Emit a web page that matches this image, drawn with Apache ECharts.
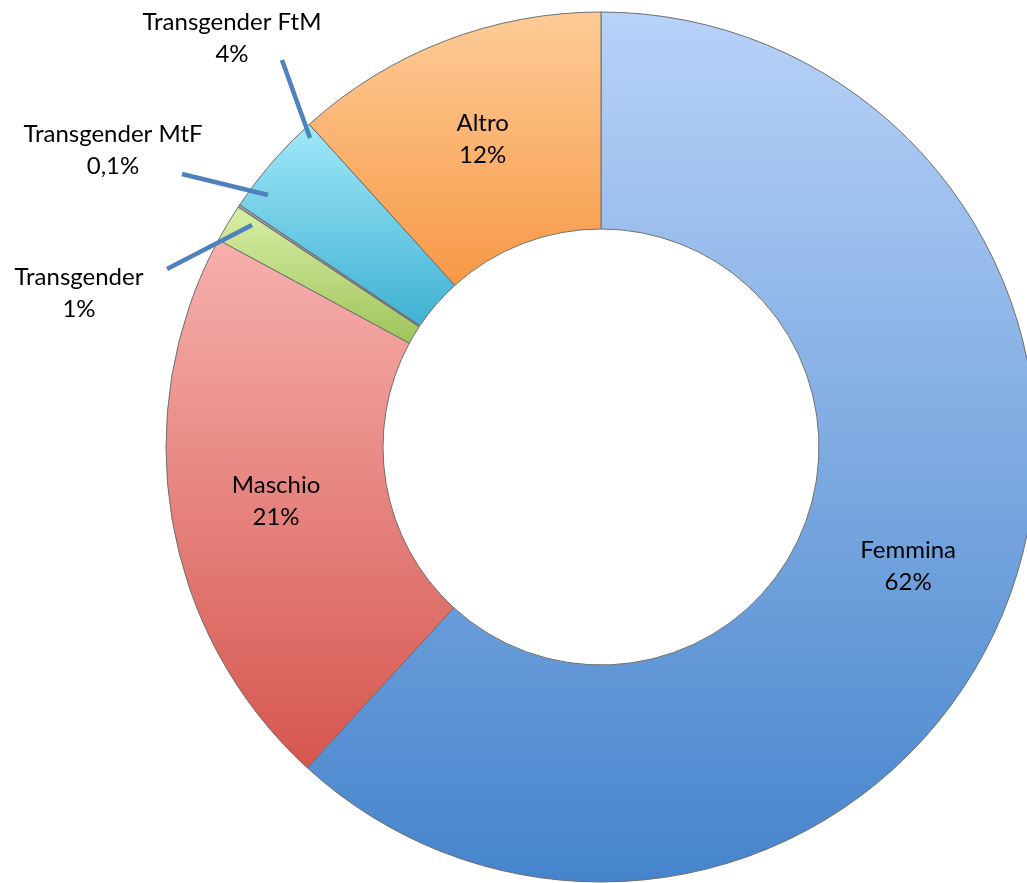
<!DOCTYPE html>
<html>
<head>
<meta charset="utf-8">
<script src="https://cdn.jsdelivr.net/npm/echarts@6/dist/echarts.min.js"></script>
<style>
    html, body {margin: 0; padding: 0; background: #fff;}
    #chart_1 {width: 1027px; height: 883px;}
</style>
</head>
<body>
<div id="chart_1"></div>
<script>
// dati (percentuali)
var categories = ['Femmina', 'Maschio', 'Transgender', 'Transgender MtF', 'Transgender FtM', 'Altro'];
var values = [61.8, 21.1, 1.4, 0.1, 3.9, 11.7];
var pctLabels = ['62%', '21%', '1%', '0,1%', '4%', '12%'];
var topColors = ['#b8d2f8', '#f7b0ad', '#d8efa6', '#9aa0a8', '#a0e8f8', '#fecc98'];
var bottomColors = ['#4584cc', '#d5564f', '#9fc35a', '#6d7580', '#3fb1d3', '#f79846'];

// etichette esterne spostate a mano (come nell'originale)
var outerLabels = {
    2: {x: 79, y: 293, line: [[252, 225], [167, 269]]},
    3: {x: 113, y: 150, line: [[268, 195], [182, 174]]},
    4: {x: 232, y: 38, line: [[310, 138], [282, 60]]}
};

var chart1 = echarts.init(document.getElementById('chart_1'));

var labelFont = {fontFamily: 'Lato', fontSize: 24, lineHeight: 32, color: '#000', align: 'center'};

var pieData = [], guideData = [];
for (var i = 0; i < categories.length; i++) {
    var outer = !!outerLabels[i];
    pieData.push({
        name: categories[i],
        value: values[i],
        label: {show: !outer},
        itemStyle: {
            color: {
                type: 'linear', x: 0, y: 0, x2: 0, y2: 1,
                colorStops: [{offset: 0, color: topColors[i]}, {offset: 1, color: bottomColors[i]}]
            }
        }
    });
    // seconda serie trasparente: solo etichette esterne e linee guida sopra le fette
    guideData.push({
        name: categories[i],
        value: values[i],
        label: {show: outer},
        labelLine: {show: outer}
    });
}

var fmt = function (p) {
    return p.name + '\n' + pctLabels[p.dataIndex];
};

var option = {
    animation: false,
    series: [
        {
            name: 'Genere',
            type: 'pie',
            z: 2,
            center: [601, 447],
            radius: [218, 435],
            startAngle: 90,
            clockwise: true,
            avoidLabelOverlap: false,
            itemStyle: {borderColor: '#6e6e6e', borderWidth: 1},
            label: Object.assign({show: true, position: 'inside', formatter: fmt}, labelFont),
            labelLine: {show: false},
            data: pieData
        },
        {
            name: 'Etichette',
            type: 'pie',
            z: 3,
            silent: true,
            center: [601, 447],
            radius: [218, 435],
            startAngle: 90,
            clockwise: true,
            avoidLabelOverlap: false,
            itemStyle: {color: 'rgba(0,0,0,0)', borderWidth: 0},
            label: Object.assign({position: 'outside', formatter: fmt}, labelFont),
            labelLine: {lineStyle: {color: '#4f81bd', width: 4.5}},
            labelLayout: function (params) {
                var o = outerLabels[params.dataIndex];
                if (!o) return {};
                return {
                    x: o.x,
                    y: o.y,
                    align: 'center',
                    verticalAlign: 'middle',
                    labelLinePoints: [o.line[0], o.line[1], o.line[1]]
                };
            },
            data: guideData
        }
    ]
};
chart1.setOption(option);
</script>
</body>
</html>
